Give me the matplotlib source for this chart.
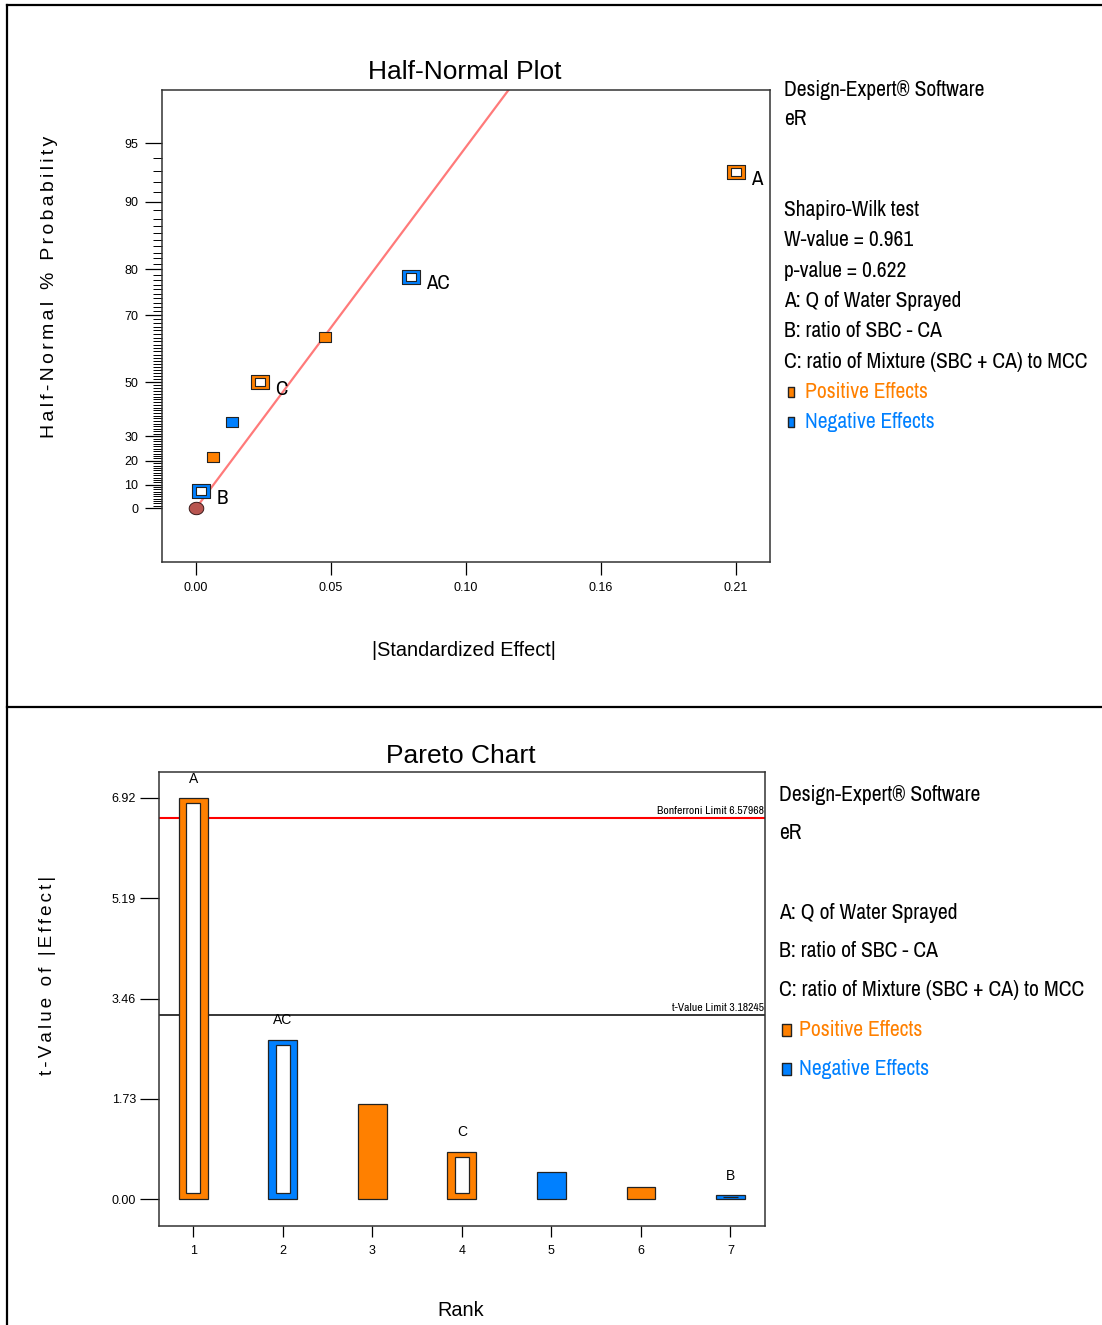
import math
import numpy as np
import matplotlib
matplotlib.use("Agg")
import matplotlib.pyplot as plt
import matplotlib.font_manager as fm
from matplotlib.lines import Line2D

# ---- data ----
# half-normal plot (effects sorted ascending)
hn_labels = ["B", "", "", "C", "", "AC", "A"]
hn_effects = [0.0020, 0.0066, 0.0140, 0.0248, 0.0501, 0.0834, 0.2097]
hn_probs = [7.14, 21.43, 35.71, 50.0, 64.29, 78.57, 92.86]
hn_positive = [False, True, False, True, True, False, True]
hn_model = [True, False, False, True, False, True, True]
origin_effect = [0.0]
origin_prob = [0.0]
fit_slope = 18.5          # z per unit |effect|
fit_effect = [0.0, 0.14]

prob_major = [0, 10, 20, 30, 50, 70, 80, 90, 95]
x_tick_labels = ["0.00", "0.05", "0.10", "0.16", "0.21"]

# pareto chart
ranks = [1, 2, 3, 4, 5, 6, 7]
rank_labels = ["A", "AC", "", "C", "", "", "B"]
t_values = [6.92, 2.75, 1.65, 0.82, 0.47, 0.22, 0.07]
t_positive = [True, False, True, True, False, True, False]
t_model = [True, True, False, True, False, False, True]
bonferroni = 6.57968
t_limit = 3.18245
t_tick_labels = ["0.00", "1.73", "3.46", "5.19", "6.92"]

factor_lines = ["A: Q of Water Sprayed", "B: ratio of SBC - CA",
                "C: ratio of Mixture (SBC + CA) to MCC"]

ORANGE = "#FF8000"
BLUE = "#0080FF"

W, H = 1102, 1325


def fx(px):
    return px / W


def fy(py):
    return 1 - py / H


def hn_z(p):
    # z such that P(|Z| < z) = p/100
    lo, hi = 0.0, 6.0
    for _ in range(60):
        mid = (lo + hi) / 2
        if math.erf(mid / math.sqrt(2)) < p / 100.0:
            lo = mid
        else:
            hi = mid
    return (lo + hi) / 2


# narrow font for the Design-Expert side text
narrow = None
for f in fm.fontManager.ttflist:
    if f.name == "Liberation Sans Narrow" and f.style == "normal" and f.weight in (400, "normal", "regular"):
        narrow = f.name
        break
if narrow is None:
    for f in fm.fontManager.ttflist:
        if "Narrow" in f.name or "Condensed" in f.name:
            narrow = f.name
            break
NSCALE = 1.0 if narrow else 0.82
if narrow is None:
    narrow = "Liberation Sans"

plt.rcParams["font.family"] = ["Liberation Sans", "DejaVu Sans"]

# slightly wide rectangle marker, like the Design-Expert squares
rect = [(-1, -0.82), (1, -0.82), (1, 0.82), (-1, 0.82), (-1, -0.82)]
tall_rect = [(-0.72, -1), (0.72, -1), (0.72, 1), (-0.72, 1), (-0.72, -1)]

fig = plt.figure(figsize=(11.02, 13.25), dpi=100)

# panel frame
for seg in ([(7, 7), (5, H)], [(7, W), (5, 5)], [(7, W), (707, 707)]):
    fig.add_artist(Line2D([fx(v) for v in seg[0]], [fy(v) for v in seg[1]],
                          color="black", lw=1.6))

# ---------------- Half-normal plot ----------------
ax1 = fig.add_axes([fx(162), fy(562), fx(770) - fx(162), fy(90) - fy(562)])
ax1.set_xlim(-0.01324, 0.2229)
ax1.set_ylim(-0.29, 2.245)

fx_line = np.array(fit_effect)
ax1.plot(fx_line, fit_slope * fx_line, color="#FF7A7A", lw=1.6, zorder=2)

t_ell = np.linspace(0, 2 * np.pi, 50)
ell_marker = np.column_stack([np.cos(t_ell), 0.85 * np.sin(t_ell)])
ax1.plot(origin_effect, [hn_z(p) for p in origin_prob], linestyle="none",
         marker=ell_marker, ms=10.5, mfc="#B85550", mec="#3a1a1a", mew=0.7, zorder=3)

for lab, e, p, pos, mod in zip(hn_labels, hn_effects, hn_probs, hn_positive, hn_model):
    z = hn_z(p)
    col = ORANGE if pos else BLUE
    if mod:
        ax1.plot([e], [z], linestyle="none", marker=rect, ms=12.5, mfc=col,
                 mec="#222222", mew=0.8, zorder=4)
        ax1.plot([e], [z], linestyle="none", marker=rect, ms=6.5, mfc="white",
                 mec="#222222", mew=0.8, zorder=5)
        ax1.annotate(lab, (e, z), xytext=(11, -5), textcoords="offset points",
                     ha="left", va="center", fontsize=15 * NSCALE, family=narrow)
    else:
        ax1.plot([e], [z], linestyle="none", marker=rect, ms=8.5, mfc=col,
                 mec="#222222", mew=0.8, zorder=4)

ax1.set_xticks(np.linspace(0, max(hn_effects), 5))
ax1.set_xticklabels(x_tick_labels)
ax1.set_yticks([hn_z(p) for p in prob_major])
ax1.set_yticklabels([str(p) for p in prob_major])
ax1.set_yticks([hn_z(p) for p in range(1, 95) if p not in prob_major], minor=True)
ax1.tick_params(axis="x", direction="out", length=9.5, width=0.9, pad=5, labelsize=9)
ax1.tick_params(axis="y", which="major", direction="out", length=12.5, width=0.9,
                pad=4.5, labelsize=9)
ax1.tick_params(axis="y", which="minor", direction="out", length=6.5, width=0.7)
for s in ax1.spines.values():
    s.set_color("#333333")
    s.set_linewidth(1.1)

fig.text(fx(465), fy(72), "Half-Normal Plot", ha="center", va="center", fontsize=19)
fig.text(fx(464), fy(651), "|Standardized Effect|", ha="center", va="center", fontsize=14.3)
fig.text(fx(50), fy(287), "\u2006".join("Half-Normal % Probability"), rotation=90,
         ha="center", va="center", fontsize=14)

# side text, top
top_lines = [("Design-Expert\u00ae Software", 90), ("eR", 119), ("Shapiro-Wilk test", 210),
             ("W-value = 0.961", 240), ("p-value = 0.622", 271)]
top_lines += list(zip(factor_lines, [301, 331, 362]))
for s, yy in top_lines:
    fig.text(fx(784), fy(yy), s, ha="left", va="center", fontsize=15.5 * NSCALE, family=narrow)
for s, yy, col in (("Positive Effects", 392, ORANGE), ("Negative Effects", 422, BLUE)):
    fig.add_artist(Line2D([fx(791)], [fy(yy)], marker=tall_rect, ms=7, mfc=col, mec="#222222",
                          mew=1.0, linestyle="none"))
    fig.text(fx(805), fy(yy), s, ha="left", va="center", color=col,
             fontsize=15.5 * NSCALE, family=narrow)

# ---------------- Pareto chart ----------------
ax2 = fig.add_axes([fx(159), fy(1226), fx(765) - fx(159), fy(772) - fy(1226)])
ax2.set_xlim(0.618, 7.387)
ax2.set_ylim(-0.46, 7.368)

ax2.axhline(bonferroni, color="#FF0000", lw=1.5, zorder=1)
ax2.axhline(t_limit, color="black", lw=1.1, zorder=1)
ax2.annotate("Bonferroni Limit %.5f" % bonferroni, (1.0, bonferroni),
             xycoords=("axes fraction", "data"), xytext=(-0.5, 1.5),
             textcoords="offset points", ha="right", va="bottom",
             fontsize=8.4 * NSCALE, family=narrow)
ax2.annotate("t-Value Limit %.5f" % t_limit, (1.0, t_limit),
             xycoords=("axes fraction", "data"), xytext=(-0.5, 1.5),
             textcoords="offset points", ha="right", va="bottom",
             fontsize=8.4 * NSCALE, family=narrow)

bar_cols = [ORANGE if p else BLUE for p in t_positive]
ax2.bar(ranks, t_values, width=0.32, color=bar_cols, edgecolor="#222222", lw=0.9, zorder=3)
for r, t, mod in zip(ranks, t_values, t_model):
    if mod:
        inner_bottom = min(0.11, t / 2)
        inner_h = max(t - 0.2, 0)
        ax2.bar([r], [inner_h], bottom=inner_bottom, width=0.16, color="white",
                edgecolor="#222222", lw=0.9, zorder=4)
for r, t, lab in zip(ranks, t_values, rank_labels):
    if lab:
        ax2.annotate(lab, (r, t), xytext=(0, 14), textcoords="offset points",
                     ha="center", va="center", fontsize=10)

ax2.set_xticks(ranks)
ax2.set_yticks(np.linspace(0, max(t_values), 5))
ax2.set_yticklabels(t_tick_labels)
ax2.tick_params(axis="x", direction="out", length=8, width=0.9, pad=6, labelsize=9)
ax2.tick_params(axis="y", direction="out", length=13.5, width=0.9, pad=3, labelsize=9)
for s in ax2.spines.values():
    s.set_color("#333333")
    s.set_linewidth(1.1)

fig.text(fx(461), fy(756), "Pareto Chart", ha="center", va="center", fontsize=19)
fig.text(fx(461), fy(1311), "Rank", ha="center", va="center", fontsize=14.3)
fig.text(fx(48), fy(975), "\u2006".join("t-Value of |Effect|"), rotation=90,
         ha="center", va="center", fontsize=13.5)

bot_lines = [("Design-Expert\u00ae Software", 795), ("eR", 833)]
bot_lines += list(zip(factor_lines, [913, 951, 990]))
for s, yy in bot_lines:
    fig.text(fx(779), fy(yy), s, ha="left", va="center", fontsize=15.6 * NSCALE, family=narrow)
for s, yy, col in (("Positive Effects", 1030, ORANGE), ("Negative Effects", 1069, BLUE)):
    fig.add_artist(Line2D([fx(786)], [fy(yy)], marker=tall_rect, ms=9, mfc=col, mec="#222222",
                          mew=1.0, linestyle="none"))
    fig.text(fx(799), fy(yy), s, ha="left", va="center", color=col,
             fontsize=15.6 * NSCALE, family=narrow)

fig.savefig("out.png", dpi=100)
